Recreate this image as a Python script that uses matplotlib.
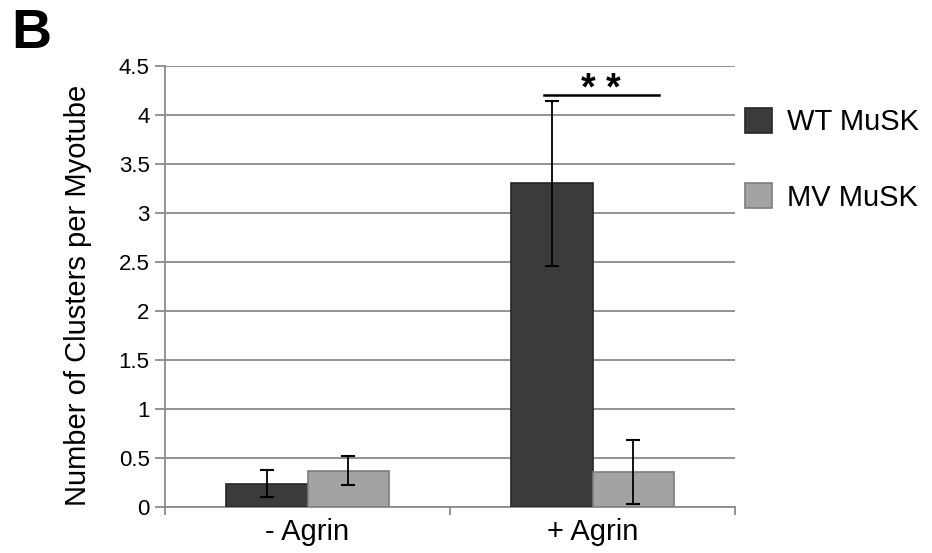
import matplotlib
matplotlib.use('Agg')
import matplotlib.pyplot as plt
import numpy as np

categories = ['- Agrin', '+ Agrin']
series = ['WT MuSK', 'MV MuSK']
wt_means = [0.24, 3.30]
wt_lo = [0.10, 2.46]
wt_hi = [0.38, 4.14]
mv_means = [0.37, 0.36]
mv_lo = [0.23, 0.03]
mv_hi = [0.52, 0.68]
yticks = [0, 0.5, 1, 1.5, 2, 2.5, 3, 3.5, 4, 4.5]
ytick_labels = ['0', '0.5', '1', '1.5', '2', '2.5', '3', '3.5', '4', '4.5']
sig_y = 4.2

plt.rcParams['font.family'] = ['Liberation Sans', 'DejaVu Sans']

fig = plt.figure(figsize=(9.32, 5.53), dpi=100)
ax = fig.add_axes([0.177, 0.083, 0.612, 0.798])

x = np.arange(len(categories))
w = 0.285
colors = ['#3b3b3b', '#a3a3a3']
edges = ['#262626', '#7d7d7d']

for i, (means, lo, hi) in enumerate([(wt_means, wt_lo, wt_hi), (mv_means, mv_lo, mv_hi)]):
    pos = x + (i - 0.5) * w
    means = np.array(means)
    err = [means - np.array(lo), np.array(hi) - means]
    ax.bar(pos, means, w, color=colors[i], edgecolor=edges[i], linewidth=1.2,
           label=series[i], zorder=3)
    ax.errorbar(pos, means, yerr=err, fmt='none', ecolor='black', elinewidth=1.3,
                capsize=5, capthick=1.5, zorder=4)

# significance bar
ax.plot([x[1] - 0.6 * w, x[1] + 0.82 * w], [sig_y, sig_y], color='black', lw=1.8, zorder=5)
ax.text(x[1] + 0.1 * w, 4.15, '* *', ha='center', va='baseline',
        fontsize=27, fontweight='bold')

ax.set_xlim(-0.5, 1.5)
ax.set_ylim(0, 4.5)
ax.set_yticks(yticks)
ax.set_yticklabels(ytick_labels, fontsize=16)
ax.yaxis.grid(True, color='#8a8a8a', lw=1.3, zorder=0)
ax.set_xticks(x)
ax.set_xticklabels(categories, fontsize=21)
ax.set_xticks([-0.5, 0.5, 1.5], minor=True)
ax.tick_params(axis='x', which='major', length=0, pad=8)
ax.tick_params(axis='x', which='minor', length=6, color='#8a8a8a', width=1.3)
ax.tick_params(axis='y', length=7, color='#8a8a8a', width=1.3, pad=4)

for s in ['top', 'right']:
    ax.spines[s].set_visible(False)
for s in ['left', 'bottom']:
    ax.spines[s].set_color('#8a8a8a')
    ax.spines[s].set_linewidth(1.3)

ax.set_ylabel('Number of Clusters per Myotube', fontsize=21)
ax.yaxis.set_label_coords(-0.128, 0.48)

fig.legend(*ax.get_legend_handles_labels(), loc='upper left',
           bbox_to_anchor=(0.799, 0.805), frameon=False, fontsize=21,
           borderaxespad=0, borderpad=0,
           handlelength=0.95, handleheight=0.95, labelspacing=1.6, handletextpad=0.5)

fig.text(0.012, 0.985, 'B', fontsize=40, fontweight='bold', ha='left', va='top')

fig.savefig('out.png', dpi=100)
